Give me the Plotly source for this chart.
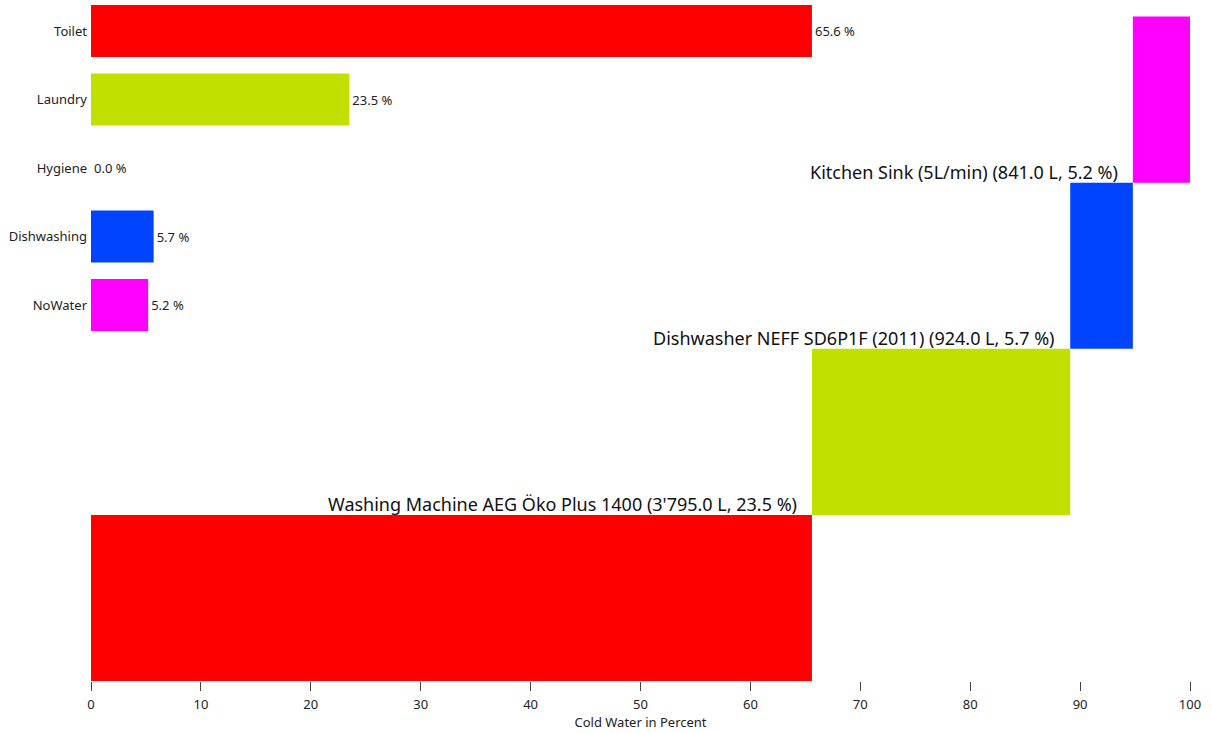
import plotly.graph_objects as go

categories = ["Toilet", "Laundry", "Hygiene", "Dishwashing", "NoWater"]
percent = [65.6, 23.5, 0.0, 5.7, 5.2]
colors = ["#FF0000", "#C2E000", "#FF0000", "#0044FF", "#FF00FF"]
device_labels = [
    "Toilet (9 L) (10'586.0 L, 65.6 %)",
    "Washing Machine AEG Öko Plus 1400 (3'795.0 L, 23.5 %)",
    "",
    "Dishwasher NEFF SD6P1F (2011) (924.0 L, 5.7 %)",
    "Kitchen Sink (5L/min) (841.0 L, 5.2 %)",
]

FONT = "Noto Sans, Open Sans, sans-serif"

fig = go.Figure()

# small category bars (top-left)
fig.add_trace(go.Bar(
    orientation="h", y=categories, x=percent,
    marker=dict(color=colors, line=dict(width=0)),
    width=0.76,
    texttemplate="%{x:.1f} %", textposition="outside",
    textfont=dict(size=13, color="#222", family=FONT),
    cliponaxis=False, showlegend=False, hoverinfo="skip",
    xaxis="x", yaxis="y",
))

# cascading boxes
starts, widths, levels, bcolors = [], [], [], []
annotations = []
cum = 0.0
lvl = 0
for c, p, col, lab in zip(categories, percent, colors, device_labels):
    if p <= 0:
        continue
    starts.append(cum)
    widths.append(p)
    levels.append(lvl + 0.5)
    bcolors.append(col)
    if lvl > 0:
        annotations.append(dict(
            x=cum, y=lvl, xref="x", yref="y2", text=lab, showarrow=False,
            xanchor="right", yanchor="bottom", xshift=-13, yshift=-3,
            font=dict(size=18, color="#111", family=FONT),
        ))
    cum += p
    lvl += 1

fig.add_trace(go.Bar(
    orientation="h", y=levels, x=widths, base=starts, width=1,
    marker=dict(color=bcolors, line=dict(width=0)),
    showlegend=False, hoverinfo="skip",
    xaxis="x", yaxis="y2",
))

# first device label, mostly hidden below the axis
fig.add_trace(go.Scatter(
    x=[percent[0]], y=[0], mode="text", text=[device_labels[0]],
    textposition="bottom right",
    textfont=dict(size=18, color="#111", family=FONT),
    showlegend=False, hoverinfo="skip", cliponaxis=True,
    xaxis="x", yaxis="y2",
))

fig.update_layout(
    width=1212, height=733,
    margin=dict(l=91, r=22, t=0, b=52),
    paper_bgcolor="white", plot_bgcolor="white",
    barmode="overlay",
    font=dict(family=FONT, size=13, color="#222"),
    annotations=annotations,
    xaxis=dict(
        range=[0, 100], tickvals=[0, 10, 20, 30, 40, 50, 60, 70, 80, 90, 100],
        ticks="outside", ticklen=9, tickcolor="#444", showgrid=False,
        zeroline=False, showline=False, ticklabelstandoff=2,
        tickfont=dict(size=13, color="#222"),
        title=dict(text="Cold Water in Percent", font=dict(size=13, color="#222"), standoff=5),
    ),
    yaxis=dict(
        type="category", categoryorder="array", categoryarray=categories,
        range=[9.489, -0.4526], showgrid=False, zeroline=False, showline=False,
        ticks="", ticklabelstandoff=3, tickfont=dict(size=13, color="#222"),
    ),
    yaxis2=dict(
        overlaying="y", range=[0, 4.1], visible=False, showgrid=False,
        zeroline=False,
    ),
)

fig.write_html(
    "out.html",
    config={"displayModeBar": False},
    post_script="document.body.style.margin='0';",
)
